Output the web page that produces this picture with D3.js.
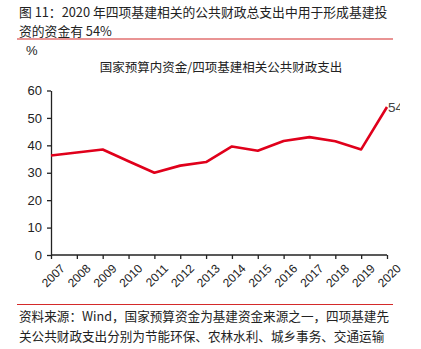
<!DOCTYPE html>
<html><head><meta charset="utf-8">
<script src="https://cdn.jsdelivr.net/npm/d3@7"></script>
<style>body{margin:0;background:#fff;}svg{display:block;font-family:"Liberation Sans","Noto Sans CJK SC",sans-serif;}</style>
</head><body>
<script>
const years = ["2007","2008","2009","2010","2011","2012","2013","2014","2015","2016","2017","2018","2019","2020"];
const values = [36.3, 37.4, 38.5, 34.2, 30.0, 32.6, 33.9, 39.6, 38.0, 41.6, 43.0, 41.5, 38.5, 54];
const yTicks = [0,10,20,30,40,50,60];
const titleLines = ["图 11：2020 年四项基建相关的公共财政总支出中用于形成基建投","资的资金有 54%"];
const chartTitle = "国家预算内资金/四项基建相关公共财政支出";
const sourceLines = ["资料来源：Wind，国家预算资金为基建资金来源之一，四项基建先","关公共财政支出分别为节能环保、农林水利、城乡事务、交通运输"];
const lastLabel = "54";

const W=421,H=349;
const svg=d3.select("body").append("svg").attr("width",W).attr("height",H);
const cjk='"Noto Sans CJK SC","Liberation Sans",sans-serif';

svg.selectAll("text.t").data(titleLines).join("text").attr("class","t")
 .attr("x",19).attr("y",(d,i)=>17+i*19).attr("font-size",12.8).attr("fill","#222").attr("font-family",cjk).text(d=>d);
svg.append("line").attr("x1",17).attr("x2",393).attr("y1",39).attr("y2",39).attr("stroke","#d42a2a").attr("stroke-width",1.2);

const x=d3.scalePoint().domain(years).range([51,387]);
const y=d3.scaleLinear().domain([0,60]).range([255,90.5]);

svg.append("text").attr("x",26).attr("y",55).attr("font-size",13).attr("fill","#222").text("%");
svg.append("text").attr("x",221).attr("y",72).attr("text-anchor","middle").attr("font-size",12.5).attr("fill","#222").attr("font-family",cjk).text(chartTitle);

const ya=svg.append("g").attr("transform","translate(51,0)").call(d3.axisLeft(y).tickValues(yTicks).tickSize(4).tickSizeOuter(0).tickPadding(5));
ya.selectAll("text").attr("font-size",13).attr("fill","#222").attr("font-family","Liberation Sans, sans-serif");
ya.selectAll("line,path").attr("stroke","#222").attr("stroke-width",1.3);

const xa=svg.append("g").attr("transform","translate(0,255)").call(d3.axisBottom(x).tickSize(4).tickSizeOuter(0).tickPadding(2));
xa.select("path").attr("d","M51,0H387");
xa.selectAll("line,path").attr("stroke","#222").attr("stroke-width",1.3);
xa.selectAll("text").attr("font-size",12).attr("fill","#222").attr("font-family","Liberation Sans, sans-serif")
 .attr("text-anchor","end").attr("dy","0.7em").attr("transform","translate(4,4) rotate(-45)");

svg.append("path").datum(values).attr("fill","none").attr("stroke","#e0001b").attr("stroke-width",2.6)
 .attr("stroke-linejoin","round")
 .attr("d",d3.line().x((d,i)=>x(years[i])).y(d=>y(d)));

svg.append("clipPath").attr("id","c").append("rect").attr("x",0).attr("y",0).attr("width",400).attr("height",H);
svg.append("text").attr("clip-path","url(#c)").attr("x",x(years[13])+1).attr("y",y(values[13])+5)
 .attr("font-size",13.5).attr("fill","#444").text(lastLabel);

svg.append("line").attr("x1",17).attr("x2",393).attr("y1",304.5).attr("y2",304.5).attr("stroke","#d42a2a").attr("stroke-width",1.2);
svg.selectAll("text.s").data(sourceLines).join("text").attr("class","s")
 .attr("x",19).attr("y",(d,i)=>321+i*20).attr("font-size",12.6).attr("fill","#222").attr("font-family",cjk).text(d=>d);
</script>
</body></html>
